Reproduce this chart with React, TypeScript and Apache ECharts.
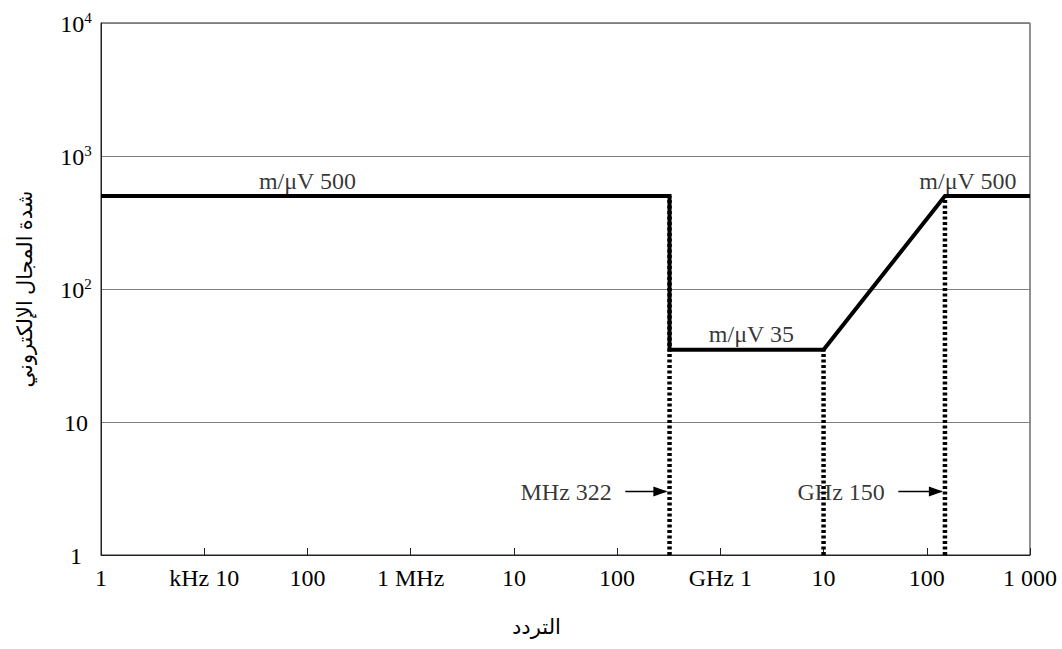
import React, { useEffect, useRef } from "react";
import * as echarts from "echarts";

const xTickLabels = ["1", "kHz 10", "100", "1 MHz", "10", "100", "GHz 1", "10", "100", "1 000"];
const yTickBases = ["1", "10", "10", "10", "10"];
const yTickExps = ["", "", "2", "3", "4"];

const limitFreq = [1e3, 322e6, 322e6, 10e9, 150e9, 1e12];
const limitField = [500, 500, 35, 35, 500, 500];

const markerFreq = [322e6, 10e9, 150e9];
const markerTop = [500, 35, 500];

const arrowLabels = ["MHz 322", "GHz 150"];
const arrowFrom = [1.2e8, 5.3e10];
const arrowTo = [3.0e8, 1.4e11];
const arrowLevel = 3;

const noteTexts = ["m/μV 500", "m/μV 35", "m/μV 500"];
const noteFreq = [1e5, 2e9, 2.5e11];
const noteField = [500, 35, 500];

const FONT = "'Liberation Serif', 'Times New Roman', 'DejaVu Sans', serif";
const FS = 24;

export default function App() {
  const ref = useRef<HTMLDivElement>(null);
  useEffect(() => {
    if (!ref.current) return;
    const chart = echarts.init(ref.current, undefined, { renderer: "svg" });
    const series: any[] = [];
    series.push({
      type: "line",
      data: limitFreq.map((f, i) => [f, limitField[i]]),
      lineStyle: { color: "#000", width: 4, join: "miter" },
      showSymbol: false,
      symbol: "none",
      z: 5,
    });
    markerFreq.forEach((f, i) => {
      series.push({
        type: "line",
        data: [
          [f, 1],
          [f, markerTop[i]],
        ],
        symbol: "none",
        lineStyle: { color: "#000", width: 4.5, type: [3, 2.5], cap: "butt" },
        z: 4,
      });
    });
    arrowLabels.forEach((lab, k) => {
      series.push({
        type: "line",
        data: [
          [arrowFrom[k], arrowLevel],
          [arrowTo[k], arrowLevel],
        ],
        symbol: "none",
        lineStyle: { color: "#000", width: 1.6 },
        z: 6,
        markPoint: {
          silent: true,
          symbol: "triangle",
          symbolSize: [10, 14],
          symbolRotate: -90,
          symbolOffset: [-6, 0],
          itemStyle: { color: "#000" },
          label: { show: false },
          data: [{ coord: [arrowTo[k], arrowLevel] }],
        },
      });
    });
    series.push({
      type: "scatter",
      symbolSize: 1,
      itemStyle: { color: "rgba(0,0,0,0)" },
      data: arrowLabels.map((lab, k) => ({ value: [arrowFrom[k], arrowLevel], name: lab })),
      label: {
        show: true,
        position: "left",
        distance: 13,
        fontFamily: FONT,
        fontSize: FS,
        color: "#000",
        formatter: (p: any) => p.name,
      },
      z: 6,
    });
    series.push({
      type: "scatter",
      symbolSize: 1,
      itemStyle: { color: "rgba(0,0,0,0)" },
      data: noteFreq.map((f, i) => ({ value: [f, noteField[i]], name: noteTexts[i] })),
      label: {
        show: true,
        position: "top",
        distance: 3,
        fontFamily: FONT,
        fontSize: FS,
        color: "#000",
        formatter: (p: any) => p.name,
      },
      z: 6,
    });

    chart.setOption({
      animation: false,
      textStyle: { fontFamily: FONT },
      grid: {
        left: 101,
        right: 32,
        top: 23,
        bottom: 94,
        show: true,
        borderColor: "#222",
        borderWidth: 1,
        outerBoundsMode: "none",
        containLabel: false,
      },
      xAxis: {
        type: "log",
        logBase: 10,
        min: 1e3,
        max: 1e12,
        axisLine: { show: true, lineStyle: { color: "#222", width: 1 } },
        axisTick: { show: true, inside: true, length: 7, lineStyle: { color: "#222" } },
        splitLine: { show: false },
        minorTick: { show: false },
        axisLabel: {
          fontFamily: FONT,
          fontSize: FS,
          color: "#000",
          margin: 11,
          showMinLabel: true,
          showMaxLabel: true,
          formatter: (v: number) => {
            const i = Math.round(Math.log10(v)) - 3;
            return xTickLabels[i] ?? "";
          },
        },
      },
      yAxis: {
        type: "log",
        logBase: 10,
        min: 1,
        max: 1e4,
        name: "شدة المجال الإلكتروني",
        nameLocation: "middle",
        nameRotate: 90,
        nameGap: 66,
        nameTextStyle: { fontFamily: FONT, fontSize: 21, color: "#000" },
        axisLine: { show: true, lineStyle: { color: "#222", width: 1 } },
        axisTick: { show: false },
        splitLine: { show: true, lineStyle: { color: "#808080", width: 1 } },
        axisLabel: {
          margin: 25,
          align: "center",
          color: "#000",
          formatter: (v: number) => {
            const i = Math.round(Math.log10(v));
            const e = yTickExps[i];
            return e ? `{b|${yTickBases[i]}}{s|${e}}` : `{b|${yTickBases[i]}}`;
          },
          rich: {
            b: { fontFamily: FONT, fontSize: FS, color: "#000", lineHeight: 26, verticalAlign: "bottom" },
            s: { fontFamily: FONT, fontSize: 15, color: "#000", lineHeight: 15, verticalAlign: "top", padding: [0, 0, 9, 0] },
          },
        },
      },
      graphic: [
        {
          type: "text",
          left: 512,
          top: 616,
          style: { text: "التردد", font: `21px ${FONT}`, fill: "#000" },
        },
      ],
      series,
    });
    return () => chart.dispose();
  }, []);
  return (
    <div
      ref={ref}
      style={{ position: "fixed", left: 0, top: 0, width: 1062, height: 649, background: "#fff" }}
    />
  );
}
